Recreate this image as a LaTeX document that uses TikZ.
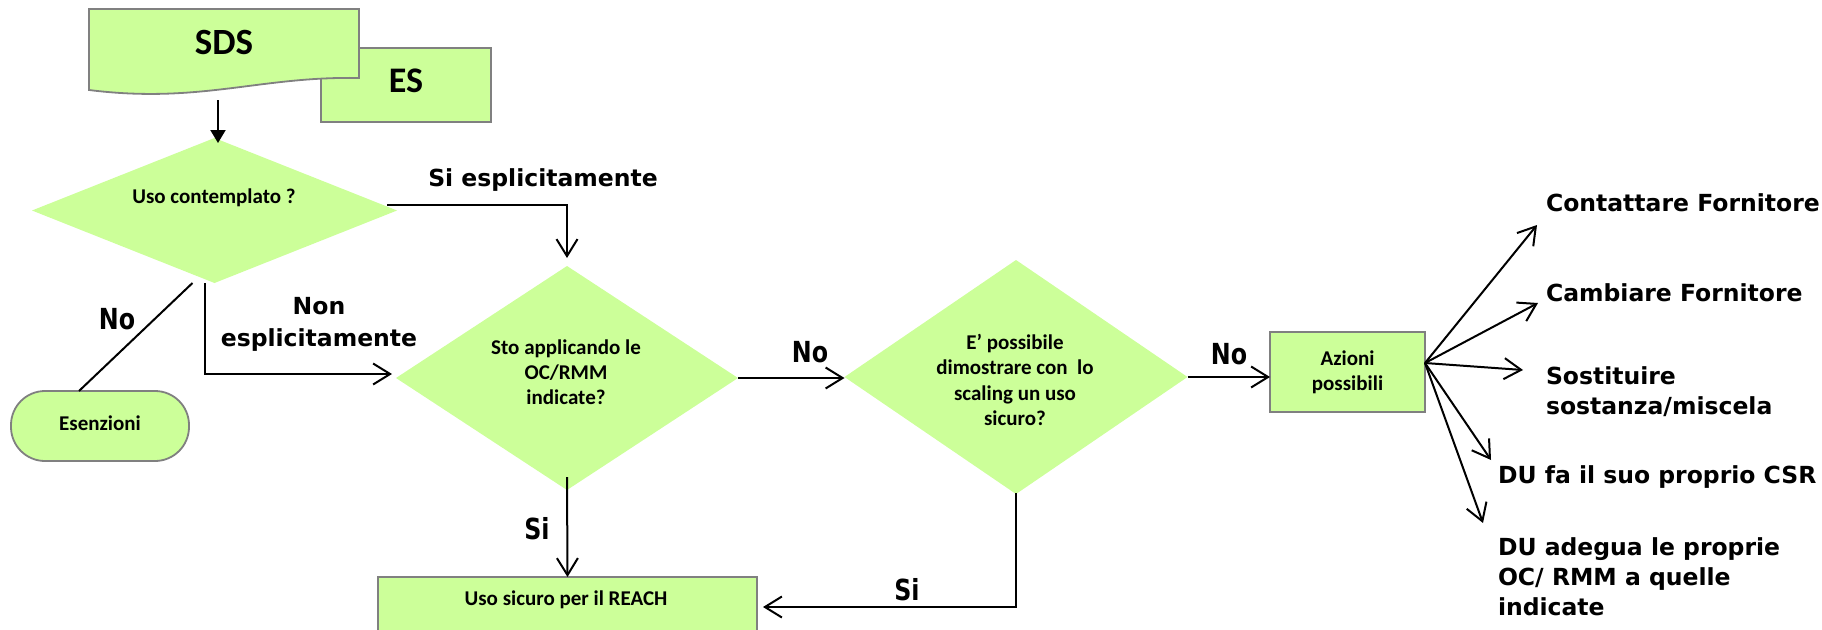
\documentclass[tikz,border=0pt]{standalone}
\usepackage{fontspec}
\setmainfont{Carlito}
\newfontfamily\vfont{DejaVu Sans}
\newfontfamily\vcfont{DejaVu Sans}[FakeStretch=0.82]
\usetikzlibrary{shapes.geometric,arrows.meta}
\definecolor{lg}{RGB}{204,255,153}
\definecolor{bd}{RGB}{128,128,128}
\begin{document}
\begin{tikzpicture}[x=1pt,y=-1pt,line width=2pt,
  gbox/.style={draw=bd,fill=lg,line width=1.8pt,inner sep=0pt,outer sep=0pt},
  dia/.style={shape=diamond,fill=lg,draw=none,inner sep=0pt,outer sep=0pt},
  arr/.style={-{Straight Barb[length=17pt,width=21pt]}},
  tri/.style={-{Triangle[length=13pt,width=15pt]}},
  dtxt/.style={font=\bfseries\fontsize{21}{25}\selectfont,align=center,inner sep=0pt},
  lbl/.style={font=\vcfont\bfseries\fontsize{29}{31}\selectfont,align=center,inner sep=0pt},
  vlbl/.style={font=\vfont\bfseries\fontsize{23.5}{30}\selectfont,align=left,anchor=west,inner sep=0pt}]
\useasboundingbox (0,0) rectangle (1822,629);
\clip (0,0) rectangle (1822,629);
% documents
\node[gbox,minimum width=170pt,minimum height=74pt] (esbox) at (406,85) {};
\node[font=\bfseries\fontsize{36}{40}\selectfont,inner sep=0pt] (es) at (406,81) {ES};
\draw[draw=bd,fill=lg,line width=1.8pt] (89,9) -- (359,9) -- (359,78) .. controls (260,76) and (200,104) .. (89,90) -- cycle;
\node[font=\bfseries\fontsize{37}{40}\selectfont,inner sep=0pt] (sds) at (224,42) {SDS};
\coordinate (sdsb) at (218,100);
% decisions
\node[dia,minimum width=365pt,minimum height=145pt] (d1) at (214.5,210.5) {};
\node[dtxt] (d1t) at (214,198) {Uso contemplato ?};
\node[dia,minimum width=342pt,minimum height=224pt] (d2) at (567,378) {};
\node[dtxt] (d2t) at (566,372) {Sto applicando le\\OC/RMM\\indicate?};
\node[dia,minimum width=343pt,minimum height=234pt] (d3) at (1016,377) {};
\node[dtxt,font=\bfseries\fontsize{21}{25.5}\selectfont] (d3t) at (1015,380) {E’ possibile\\dimostrare con\ \ lo\\scaling un uso\\sicuro?};
% boxes
\node[gbox,rounded corners=34pt,minimum width=178pt,minimum height=70pt] (ex) at (100,426) {};
\node[dtxt] (ext) at (100,423) {Esenzioni};
\node[gbox,minimum width=155pt,minimum height=80pt,dtxt] (az) at (1347.5,372) {Azioni\\possibili};
\node[gbox,minimum width=379pt,minimum height=60pt] (us) at (567.5,607) {};
\node[dtxt] (ust) at (566,600) {Uso sicuro per il REACH};
% connectors
\draw[tri,shorten >=-5pt] (sdsb) -- (sdsb |- d1.north);
\draw[arr] ([xshift=-10pt,yshift=6pt]d1.east) -| ([yshift=8pt]d2.north);
\draw[arr] ([xshift=-10pt]d1.south) |- ([xshift=-4pt,yshift=4pt]d2.west);
\draw ([xshift=-22pt]d1.south) -- ([xshift=-21pt]ex.north);
\draw[arr] (d2.east) -- (d2.east -| d3.west);
\draw[arr] ([yshift=13pt]d2.south) -- (us.north);
\draw[arr] ([yshift=1pt]d3.south) |- ([xshift=6pt]us.east);
\draw[arr] (d3.east) -- (d3.east -| az.west);
\coordinate (fo) at ([yshift=9pt]az.east);
\coordinate (t1) at (1537,225);
\coordinate (t2) at (1538,303);
\coordinate (t3) at (1523,370);
\coordinate (t4) at (1491,460);
\coordinate (t5) at (1483,523);
\foreach \t in {t1,t2,t3,t4,t5} \draw[arr] (fo) -- (\t);
% labels
\node[vlbl,anchor=center] (lsi) at (543,180) {Si esplicitamente};
\node[vlbl,anchor=center,align=center,font=\vfont\bfseries\fontsize{23.5}{32}\selectfont] (lnon) at (319,324) {Non\\esplicitamente};
\node[lbl] (lno1) at (117,319) {No};
\node[lbl] (lsi2) at (537,529) {Si};
\node[lbl] (lno2) at (810,352) {No};
\node[lbl] (lno3) at (1229,354) {No};
\node[lbl] (lsi3) at (907,590) {Si};
\node[vlbl] (r1) at (1545,203) {Contattare Fornitore};
\node[vlbl] (r2) at (1545,293) {Cambiare Fornitore};
\node[vlbl] (r3) at (1545,392) {Sostituire\\sostanza/miscela};
\node[vlbl] (r4) at (1497,477) {DU fa il suo proprio CSR};
\node[vlbl] (r5) at (1497,577) {DU adegua le proprie\\OC/ RMM a quelle\\indicate};
\end{tikzpicture}
\end{document}
